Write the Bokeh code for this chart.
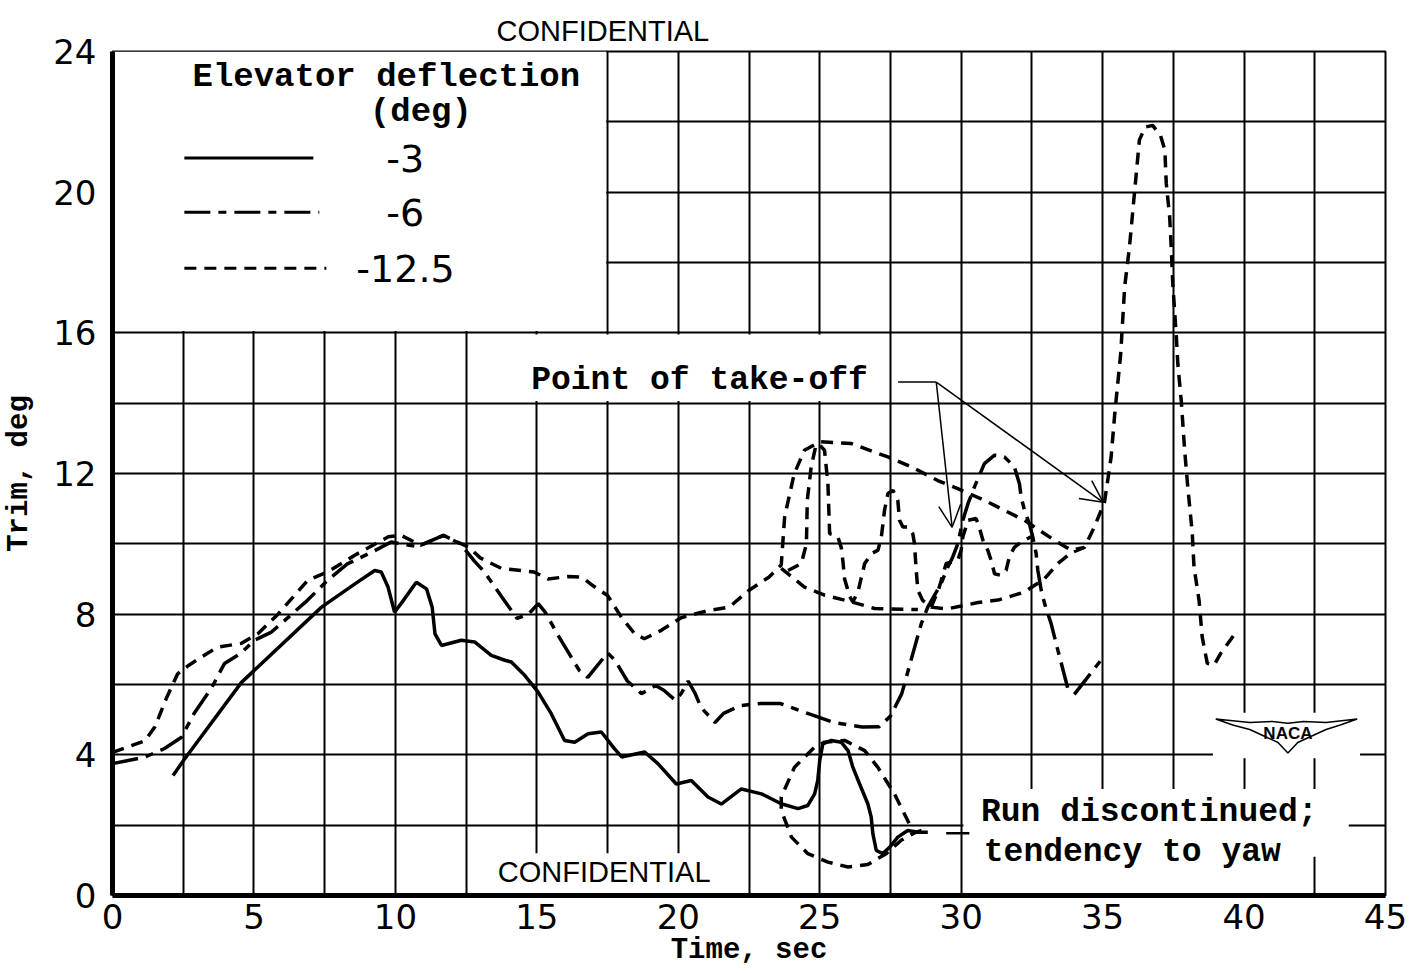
import math
from bokeh.plotting import figure
from bokeh.models import (Range1d, FixedTicker, Label, Arrow, OpenHead, Title)
from bokeh.embed import file_html
from bokeh.resources import INLINE

NaN = float("nan")

# ---------------- data ----------------
# Elevator deflection -3 deg (solid)
t_m3 = [2.14, 2.51, 4.56, 7.39, 8.57, 9.27, 9.5, 9.74, 9.97, 10.2, 10.74, 11.1, 11.3,
        11.4, 11.63, 12.33, 12.8, 13.39, 13.87, 14.1, 14.57, 15.04, 15.51, 15.98, 16.34,
        16.81, 17.28, 17.75, 18.0, 18.81, 19.28, 19.93, 20.46, 21.05, 21.52, 22.23, 22.94,
        23.64, 24.23, 24.58, 24.82, 24.93, 25.0, 25.11, 25.41, 25.76, 26.0, 26.17, 26.41,
        26.7, 26.82, 26.88, 27.0, 27.23, 27.47, 27.76, 28.11, 28.47, 28.82]
trim_m3 = [3.41, 3.84, 6.06, 8.2, 8.86, 9.24, 9.2, 8.77, 8.06, 8.3, 8.91, 8.72, 8.2,
           7.44, 7.11, 7.26, 7.21, 6.83, 6.69, 6.64, 6.26, 5.79, 5.17, 4.41, 4.36,
           4.6, 4.65, 4.17, 3.94, 4.08, 3.75, 3.17, 3.27, 2.8, 2.6, 3.03, 2.89,
           2.61, 2.47, 2.56, 2.89, 3.27, 3.84, 4.31, 4.41, 4.36, 4.12, 3.65, 3.17,
           2.61, 2.23, 1.75, 1.28, 1.19, 1.37, 1.66, 1.85, 1.8, 1.8]

# Elevator deflection -6 deg (long dash - short dash)
t_m6 = [0.0, 1.13, 1.84, 2.44, 2.9, 3.5, 3.96, 4.56, 5.0, 5.6, 6.2, 6.9, 7.6, 8.3, 9.26,
        9.85, 10.7, 11.0, 11.7, 12.3, 12.8, 13.15, 13.75, 14.3, 14.7, 15.05, 15.3, 15.75,
        16.5, 16.8, 17.0, 17.5, 17.75, 18.2, 18.7, 19.2, 19.5, 19.9, 20.1, 20.35, 20.6,
        20.8, 21.3, 21.6, 22.2, 22.9, 23.6, 24.6, 25.5, 26.5, 27.1, 27.5, 27.9, 28.3,
        28.59, 28.82, 29.29, 29.53, 29.7, 29.88, 30.06, 30.24, 30.47, 30.82, 31.18, 31.53,
        31.88, 32.06, 32.12, 32.24, 32.41, 32.53, 32.65, 32.71, 32.83, 32.95, 33.18, 33.42,
        33.8, NaN, 34.0, 34.95]
trim_m6 = [3.75, 3.93, 4.18, 4.5, 5.2, 5.9, 6.6, 6.9, 7.25, 7.48, 7.9, 8.4, 8.96, 9.43, 9.8,
           10.05, 9.93, 10.0, 10.24, 10.0, 9.5, 9.2, 8.5, 7.88, 8.0, 8.3, 8.05, 7.4,
           6.4, 6.2, 6.4, 6.9, 6.7, 6.1, 5.74, 5.97, 5.83, 5.55, 5.74, 6.1, 5.74,
           5.35, 4.92, 5.18, 5.4, 5.46, 5.46, 5.17, 4.92, 4.79, 4.8, 5.1, 5.74, 6.9,
           7.73, 8.2, 8.87, 9.34, 9.62, 10.0, 10.67, 11.14, 11.62, 12.28, 12.52, 12.47,
           12.19, 11.71, 11.33, 10.95, 10.57, 10.2, 9.72, 9.25, 8.68, 8.3, 7.73, 6.97,
           5.8, NaN, 5.72, 6.7]

# Elevator deflection -12.5 deg (short dashes), several traced strokes
t_m125 = [0.0, 1.15, 1.5, 1.9, 2.3, 2.7, 3.7, 4.56, 5.15, 5.85, 6.9, 7.6, 8.55, 9.75, 10.2,
          10.9, 11.7, 12.6, 13.0, 13.75, 14.9, 15.4, 16.1, 16.6, 17.0, 17.5, 18.0, 18.45,
          18.8, 19.4, 20.1, 21.05, 21.8, 22.5, 23.2, 23.64, 23.76, 24.1, 24.46, 24.93,
          25.17, 25.29, 25.35, 25.5, 25.64, 25.76, 25.82, 25.88, 26.06, 26.17, 26.35, 26.59,
          26.83, 27.06, 27.18, 27.29, 27.41, 27.59, 27.76, 27.82, 27.94, 28.12, 28.29, 28.35,
          28.41, 28.47, 28.64, 28.94, 29.5, 30.1, 30.6, 31.3, 32.24, 32.95, 33.42, 33.89,
          34.36, 34.71, 35.07, 35.3, 35.43, 35.64, 35.78, 35.95, 36.07, 36.18, 36.3, 36.5,
          36.77, 37.05, 37.2, 37.25, 37.37, 37.43, 37.48, 37.6, 37.66, 37.78, 37.9, 38.0,
          38.17, 38.23, 38.41, 38.52, 38.7, 38.94, 39.17, 39.64,
          NaN, 25.05, 26.12, 27.41, 28.24, 29.17, 29.88, 30.82, 31.53, 32.24, 32.59, 33.3,
          33.89, 34.36,
          NaN, 23.88, 24.35, 24.53, 24.56, 24.7, 24.88,
          NaN, 23.64, 24.46, 25.17, 26.12, 26.94, 28.47,
          NaN, 28.94, 29.2, 29.47, 29.88, 30.0, 30.06, 30.24, 30.53, 30.65, 30.77, 30.94,
          31.06, 31.18, 31.41, 31.59, 31.7, 31.88, 32.12, 32.47,
          NaN, 28.6, 28.35, 27.88, 27.35, 26.7, 26.0, 25.29, 24.58, 24.0, 23.64, 23.64,
          24.11, 24.82, 25.17, 25.88, 26.59, 27.05, 27.64, 28.11, 28.35]
trim_m125 = [4.07, 4.4, 4.8, 5.6, 6.3, 6.55, 7.06, 7.17, 7.45, 8.0, 8.96, 9.2, 9.67, 10.2, 10.24,
             9.96, 10.24, 9.9, 9.6, 9.3, 9.2, 9.0, 9.07, 9.05, 8.8, 8.53, 7.9, 7.45,
             7.3, 7.54, 7.9, 8.1, 8.2, 8.68, 9.05, 9.4, 10.77, 12.0, 12.66, 12.87,
             12.66, 11.71, 10.29, 10.25, 10.2, 9.9, 9.5, 9.0, 8.5, 8.35, 8.63, 9.44,
             9.72, 9.82, 10.2, 10.95, 11.43, 11.52, 11.24, 10.67, 10.48, 10.48, 10.29, 10.0,
             9.25, 8.68, 8.39, 8.2, 8.15, 8.25, 8.33, 8.4, 8.63, 9.01, 9.44, 9.75,
             9.9, 10.48, 11.2, 12.46, 13.7, 15.41, 17.31, 18.45, 19.49, 20.44, 21.48, 21.85,
             21.9, 21.6, 21.2, 20.25, 19.3, 18.35, 17.4, 15.98, 15.1, 14.07, 12.66, 11.71,
             10.29, 9.34, 8.39, 7.35, 6.6, 6.55, 6.88, 7.4,
             NaN, 12.9, 12.85, 12.47, 12.19, 11.8, 11.57, 11.24, 10.95, 10.67, 10.48, 10.1,
             9.82, 9.9,
             NaN, 9.24, 9.44, 10.0, 11.24, 12.2, 12.85,
             NaN, 9.3, 8.77, 8.54, 8.35, 8.16, 8.13,
             NaN, 8.2, 8.7, 9.44, 9.53, 9.82, 10.2, 10.67, 10.72, 10.44, 10.1, 9.82,
             9.53, 9.15, 9.1, 9.25, 9.62, 9.9, 10.05, 10.2,
             NaN, 1.85, 1.78, 1.57, 1.19, 0.88, 0.81, 0.95, 1.19, 1.66, 2.42, 2.8,
             3.65, 4.22, 4.36, 4.41, 4.12, 3.65, 2.89, 2.13, 1.75]

x_ticks = [0, 5, 10, 15, 20, 25, 30, 35, 40, 45]
y_ticks = [0, 4, 8, 12, 16, 20, 24]
x_grid = [i * 2.5 for i in range(19)]
y_grid = [i * 2 for i in range(13)]

legend_labels = ["-3", "-6", "-12.5"]
takeoff_x = [29.68, 35.02]
takeoff_y = [10.47, 11.18]

# ---------------- styling ----------------
MONO = "Liberation Mono"
HAND = "DejaVu Sans"
DASH_6 = "26 8 8 8"
DASH_125 = "12 8"
LW = 3.5

p = figure(width=1412, height=973, output_backend="svg", toolbar_location=None,
           x_range=Range1d(0, 45), y_range=Range1d(0, 24),
           min_border_left=111, min_border_right=27, min_border_top=51, min_border_bottom=78)
p.background_fill_color = "white"
p.border_fill_color = "white"
p.outline_line_color = "black"
p.outline_line_width = 2

top_title = Title(text="CONFIDENTIAL", align="left", offset=384,
                  text_font="Liberation Sans", text_font_style="normal",
                  text_font_size="29px", text_color="black", standoff=10)
p.add_layout(top_title, "above")

p.xaxis.ticker = FixedTicker(ticks=x_ticks)
p.yaxis.ticker = FixedTicker(ticks=y_ticks)
p.xgrid.ticker = FixedTicker(ticks=x_grid)
p.ygrid.ticker = FixedTicker(ticks=y_grid)
for g in (p.xgrid, p.ygrid):
    g.grid_line_color = "black"
    g.grid_line_width = 2
    g.grid_line_alpha = 1.0

for ax in (p.xaxis, p.yaxis):
    ax.axis_line_width = 5
    ax.axis_line_color = "black"
    ax.major_tick_line_color = None
    ax.minor_tick_line_color = None
    ax.major_label_text_font = HAND
    ax.major_label_text_font_size = "34px"
    ax.major_label_text_color = "black"
    ax.axis_label_text_font = MONO
    ax.axis_label_text_font_style = "bold"
    ax.axis_label_text_font_size = "29px"
    ax.axis_label_text_color = "black"
p.xaxis.major_label_standoff = 2
p.yaxis.major_label_standoff = 10
p.xaxis.axis_label = "Time, sec"
p.yaxis.axis_label = "Trim, deg"
p.xaxis.axis_label_standoff = 2
p.yaxis.axis_label_standoff = 14

# white patches that hide the grid behind lettering
p.quad(left=[0, 14.6, 30.08, 30.08, 38.9, 13.4],
       right=[17.45, 27.42, 43.7, 42.4, 44.1, 21.3],
       bottom=[16.05, 14.06, 1.1, 0, 3.9, 0],
       top=[24, 15.95, 3.03, 1.1, 5.2, 1.2],
       fill_color="white", line_color=None)

# data curves
p.line(t_m3, trim_m3, line_color="black", line_width=LW)
p.line(t_m6, trim_m6, line_color="black", line_width=LW, line_dash=DASH_6)
p.line(t_m125, trim_m125, line_color="black", line_width=LW, line_dash=DASH_125)

# legend (drawn by hand inside the white box)
leg_y = [20.97, 19.43, 17.84]
leg_dash = ["solid", DASH_6, DASH_125]
leg_x_end = [7.1, 7.31, 7.56]
leg_text_x = [9.68, 9.68, 8.62]
for yy, dsh, xe, lab, tx in zip(leg_y, leg_dash, leg_x_end, legend_labels, leg_text_x):
    p.line([2.54, xe], [yy, yy], line_color="black", line_width=3, line_dash=dsh)
    p.add_layout(Label(x=tx, y=yy, text=lab, text_font=HAND, text_font_size="38px",
                       text_baseline="middle", text_align="left", text_color="black"))
p.add_layout(Label(x=9.68, y=23.27, text="Elevator deflection", text_font=MONO,
                   text_font_style="bold", text_font_size="34px", text_align="center",
                   text_baseline="middle", text_color="black"))
p.add_layout(Label(x=10.9, y=22.28, text="(deg)", text_font=MONO,
                   text_font_style="bold", text_font_size="34px", text_align="center",
                   text_baseline="middle", text_color="black"))

# annotations
p.add_layout(Label(x=14.8, y=14.65, text="Point of take-off", text_font=MONO,
                   text_font_style="bold", text_font_size="33px", text_align="left",
                   text_baseline="middle", text_color="black"))
p.line([27.77, 29.12], [14.6, 14.6], line_color="black", line_width=1.5)
for ex, ey in zip(takeoff_x, takeoff_y):
    p.add_layout(Arrow(end=OpenHead(size=22, line_width=1.5, line_color="black"),
                       x_start=29.12, y_start=14.6, x_end=ex, y_end=ey,
                       line_width=1.5, line_color="black"))

p.add_layout(Label(x=30.7, y=2.36, text="Run discontinued;", text_font=MONO,
                   text_font_style="bold", text_font_size="33px", text_align="left",
                   text_baseline="middle", text_color="black"))
p.add_layout(Label(x=30.8, y=1.22, text="tendency to yaw", text_font=MONO,
                   text_font_style="bold", text_font_size="33px", text_align="left",
                   text_baseline="middle", text_color="black"))
p.line([29.47, 30.29], [1.77, 1.77], line_color="black", line_width=2.5)

p.add_layout(Label(x=17.38, y=0.68, text="CONFIDENTIAL", text_font="Liberation Sans",
                   text_font_size="29px", text_align="center", text_baseline="middle",
                   text_color="black"))

# NACA wing logo
p.patch([39.0, 40.2, 41.0, 41.55, 42.1, 42.9, 44.0, 43.4, 42.9, 42.3, 41.9, 41.55,
         41.2, 40.8, 40.2, 39.6],
        [5.02, 4.92, 4.95, 4.9, 4.95, 4.92, 5.02, 4.85, 4.72, 4.5, 4.35, 4.05,
         4.35, 4.5, 4.72, 4.85],
        fill_color="white", line_color="black", line_width=1.5)
p.add_layout(Label(x=41.55, y=4.62, text="NACA", text_font="Liberation Sans",
                   text_font_style="bold", text_font_size="17px", text_align="center",
                   text_baseline="middle", text_color="black"))

open("out.html", "w").write(file_html(p, INLINE))
